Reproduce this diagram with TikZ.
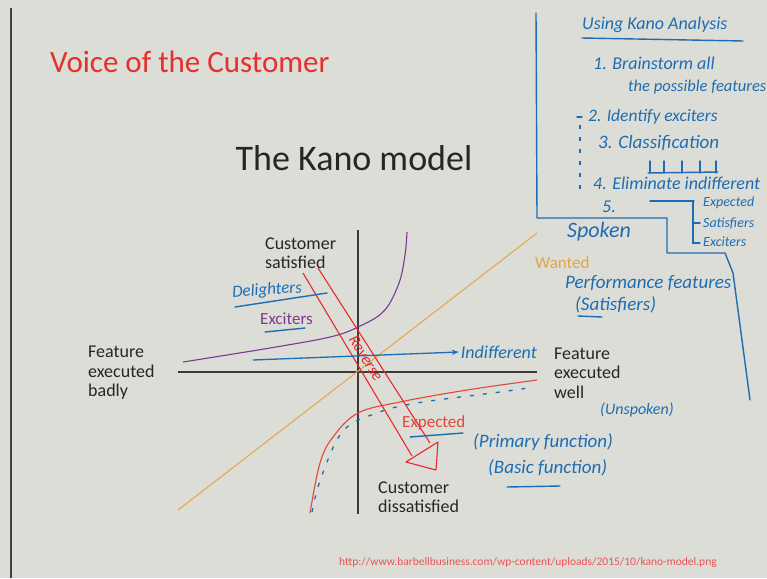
\documentclass[tikz,border=0pt]{standalone}
\usepackage{fontspec}
\setmainfont{Carlito}
\usetikzlibrary{arrows.meta}
\definecolor{bg}{HTML}{DCDDD6}
\definecolor{ttl}{HTML}{E5302C}
\definecolor{pen}{HTML}{1E6DB3}
\definecolor{exc}{HTML}{7A3A8E}
\definecolor{wnt}{HTML}{E6A544}
\definecolor{expc}{HTML}{E2473A}
\definecolor{rev}{HTML}{E8282C}
\definecolor{axis}{HTML}{3A3A3A}
\tikzset{
  lbl/.style={font=\fontsize{18}{19.5}\selectfont, text=black!85, align=left, inner sep=0pt, anchor=west},
  hand/.style={font=\fontsize{18}{20}\selectfont\itshape, text=pen, inner sep=0pt, anchor=west},
  penline/.style={draw=pen, line width=1.4pt, line cap=round},
}
\begin{document}
\begin{tikzpicture}[x=1pt,y=-1pt]
\fill[bg] (0,0) rectangle (767,578);
\useasboundingbox (0,0) rectangle (767,578);
\draw[black!75, line width=1.5pt] (11,8) -- (11,578);

% titles
\node[anchor=west, inner sep=0pt, text=ttl, font=\fontsize{31}{34}\selectfont] (title) at (50,62) {Voice of the Customer};
\node[inner sep=0pt, font=\fontsize{36}{40}\selectfont, text=black!85] (kano) at (354,158) {The Kano model};

% axes
\coordinate (vt) at (358,230);
\coordinate (vb) at (358,514);
\coordinate (hl) at (178,372);
\coordinate (hr) at (537,372);
\draw[axis, line width=1.2pt] (vt) -- (vb);
\draw[axis, line width=1.2pt] (hl) -- (hr);

% axis labels
\node[lbl] (sat) at (265,253) {Customer\\satisfied};
\node[lbl] (bad) at (88,373) {Feature\\executed\\badly};
\node[lbl] (well) at (554,373) {Feature\\executed\\well};
\node[lbl] (dis) at (378,497) {Customer\\dissatisfied};

% curves
\draw[wnt, line width=1pt] (178,510) -- (537,233);
\draw[exc, line width=1.1pt] plot[smooth, tension=0.6] coordinates
  {(183,362) (270,348) (330,337) (358,327) (384,311) (399,283) (405,255) (407,232)};
\draw[expc, line width=1.1pt] plot[smooth, tension=0.6] coordinates
  {(310,513) (320,463) (333,437) (358,413) (400,402) (467,390) (537,380)};
\draw[pen, line width=1.3pt, dash pattern=on 4pt off 9pt] plot[smooth, tension=0.6] coordinates
  {(312,512) (321,478) (343,431) (377,413) (417,403) (500,392) (528,388)};

% curve labels
\node[anchor=west, inner sep=0pt, text=exc, font=\fontsize{17}{19}\selectfont] (exciters) at (260,319) {Exciters};
\node[anchor=west, inner sep=0pt, text=wnt, font=\fontsize{17}{19}\selectfont] (wanted) at (535,263) {Wanted};
\node[anchor=west, inner sep=0pt, text=expc, font=\fontsize{17}{19}\selectfont] (expected) at (402,423) {Expected};

% reverse arrow
\draw[rev, line width=1.1pt] (303,273) -- (412,456);
\draw[rev, line width=1.1pt] (318,268) -- (430,443);
\draw[rev, line width=1.1pt, line join=round] (406,462) -- (438,442) -- (436,470) -- cycle;
\node[rotate=-58, text=rev, font=\fontsize{16}{18}\selectfont\itshape, inner sep=0pt] (reverse) at (366,358) {Reverse};

% indifferent arrow
\node[hand, anchor=east] (indiff) at (537,352) {Indifferent};
\coordinate (ia) at (253,360);
\draw[pen, line width=1.3pt, -{Stealth[length=7pt]}] (ia) -- ([xshift=-2pt]indiff.west);

% hand notes around the chart
\node[hand, rotate=4, font=\fontsize{17}{19}\selectfont\itshape] (delight) at (232,293) {Delighters};
\draw[penline] (235,307) -- (327,293);
\draw[penline] (265,332) -- (305,328);
\draw[penline] (410,437) -- (463,433);
\node[hand, font=\fontsize{22}{24}\selectfont\itshape] (spoken) at (567,232) {Spoken};
\node[hand, font=\fontsize{19}{21}\selectfont\itshape] (perf) at (565,283) {Performance features};
\node[hand, font=\fontsize{19}{21}\selectfont\itshape] (satis) at (575,305) {(Satisfiers)};
\draw[penline] (578,316) -- (602,317);
\node[hand, font=\fontsize{16}{18}\selectfont\itshape] (unspoken) at (600,410) {(Unspoken)};
\node[hand, font=\fontsize{19}{21}\selectfont\itshape] (primary) at (473,442) {(Primary function)};
\node[hand, font=\fontsize{19}{21}\selectfont\itshape] (basic) at (488,468) {(Basic function)};
\draw[penline] (507,487) -- (560,486);

% boxed notes on the right
\draw[penline, line join=round] (536,13) -- (537,218) -- (667,218) -- (667,253) -- (725,253) -- (733,273) -- (750,400);
\node[hand] (using) at (582,25) {Using Kano Analysis};
\draw[penline] (582,38) -- (743,41);
\node[hand] (s1) at (593,63) {1. Brainstorm all};
\node[hand, font=\fontsize{16.5}{18}\selectfont\itshape] (s1b) at (628,87) {the possible features};
\node[hand, font=\fontsize{17.5}{19}\selectfont\itshape] (s2) at (588,117) {2. Identify exciters};
\draw[penline] (577,117) -- (582,117);
\node[hand, font=\fontsize{19}{21}\selectfont\itshape] (s3) at (598,143) {3. Classification};
\draw[pen, line width=1.2pt, dash pattern=on 4pt off 8pt] (580,125) -- (580,192);
\draw[penline] (648,173) -- (718,172);
\foreach \xx in {650,664,682,700,716} \draw[penline] (\xx,173) -- (\xx,161);
\node[hand] (s4) at (593,183) {4. Eliminate indifferent};
\node[hand] (s5) at (602,207) {5.};
\draw[penline] (650,201) -- (694,201);
\draw[penline] (693,201) -- (693,243) -- (700,243);
\draw[penline] (693,223) -- (700,223);
\node[hand, font=\fontsize{14}{16}\selectfont\itshape] (t1) at (703,203) {Expected};
\node[hand, font=\fontsize{14}{16}\selectfont\itshape] (t2) at (703,223) {Satisfiers};
\node[hand, font=\fontsize{14}{16}\selectfont\itshape] (t3) at (703,242) {Exciters};

% source
\node[anchor=east, inner sep=0pt, text=rev!80, font=\fontsize{11.5}{13}\selectfont] (src) at (717,562) {http://www.barbellbusiness.com/wp-content/uploads/2015/10/kano-model.png};
\end{tikzpicture}
\end{document}
